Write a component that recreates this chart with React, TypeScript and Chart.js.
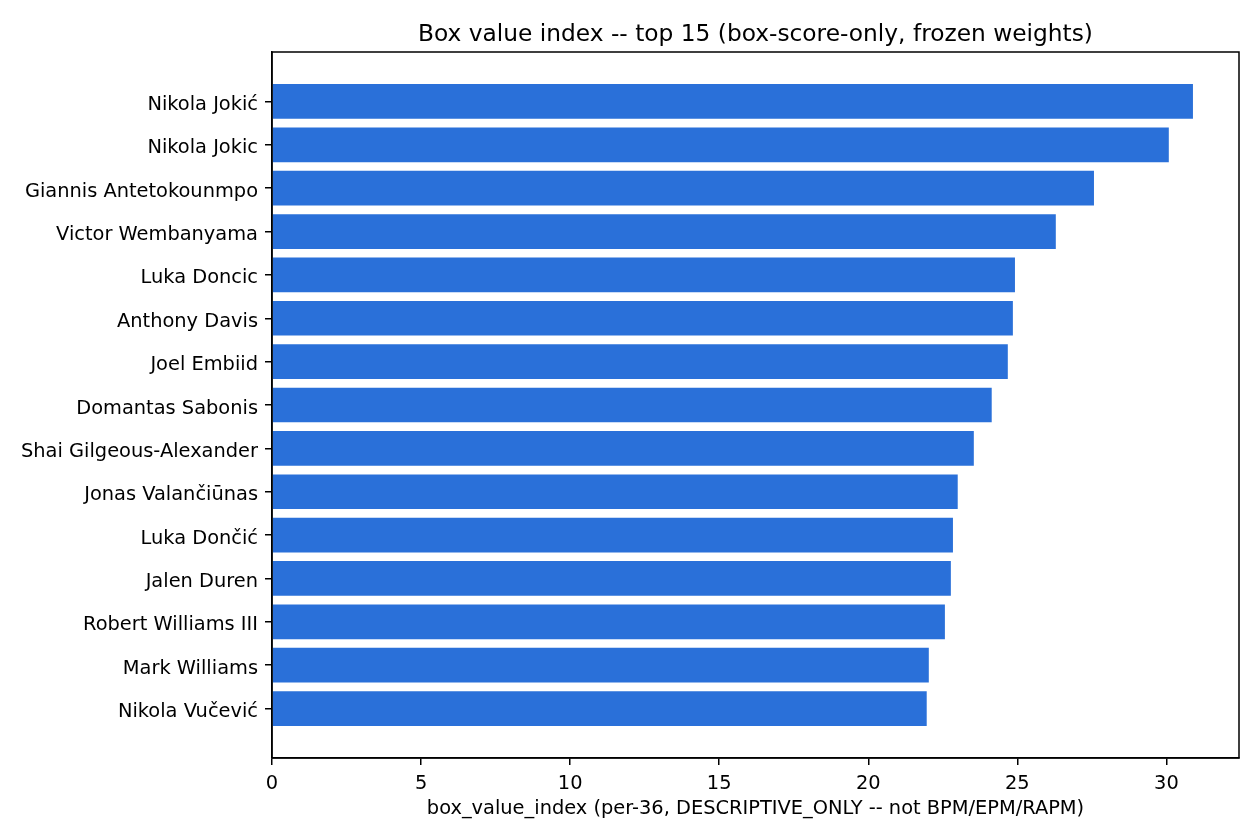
import React, { useEffect, useRef } from "react";
import { Chart, registerables } from "chart.js";

Chart.register(...registerables);

const players: string[] = [
  "Nikola Jokić",
  "Nikola Jokic",
  "Giannis Antetokounmpo",
  "Victor Wembanyama",
  "Luka Doncic",
  "Anthony Davis",
  "Joel Embiid",
  "Domantas Sabonis",
  "Shai Gilgeous-Alexander",
  "Jonas Valančiūnas",
  "Luka Dončić",
  "Jalen Duren",
  "Robert Williams III",
  "Mark Williams",
  "Nikola Vučević",
];

const boxValueIndex: number[] = [
  30.89, 30.08, 27.57, 26.29, 24.92, 24.85, 24.68, 24.14, 23.54, 23.0, 22.84,
  22.77, 22.57, 22.03, 21.96,
];

const xTickValues: number[] = [0, 5, 10, 15, 20, 25, 30];

const titleText = "Box value index -- top 15 (box-score-only, frozen weights)";
const xLabelText = "box_value_index (per-36, DESCRIPTIVE_ONLY -- not BPM/EPM/RAPM)";

const FONT = "'DejaVu Sans', sans-serif";
const BAR_COLOR = "#2a70d9";

export default function App() {
  const canvasRef = useRef<HTMLCanvasElement | null>(null);

  useEffect(() => {
    document.body.style.margin = "0";
    const canvas = canvasRef.current;
    if (!canvas) return;

    const n = players.length;
    const barHalf = 0.4;
    const yPad = (n - 1 + 2 * barHalf) * 0.05;
    const yMin = -barHalf - yPad;
    const yMax = n - 1 + barHalf + yPad;
    const xMax = Math.max(...boxValueIndex) * 1.05;

    const framePlugin = {
      id: "frameAndTexts",
      afterDraw(chart: any) {
        const { ctx, chartArea } = chart;
        const { left, right, top, bottom } = chartArea;
        ctx.save();
        ctx.strokeStyle = "#000";
        ctx.lineWidth = 1.5;
        ctx.beginPath();
        ctx.moveTo(left, bottom);
        ctx.lineTo(left, top);
        ctx.lineTo(right, top);
        ctx.lineTo(right, bottom);
        ctx.lineTo(left, bottom);
        ctx.stroke();

        ctx.fillStyle = "#000";
        ctx.textAlign = "center";
        ctx.textBaseline = "alphabetic";
        const cx = (left + right) / 2;
        ctx.font = `23.3px ${FONT}`;
        ctx.fillText(titleText, cx, top - 11.5);
        ctx.font = `19.4px ${FONT}`;
        ctx.fillText(xLabelText, cx, bottom + 55.5);
        ctx.restore();
      },
    };

    const chart = new Chart(canvas, {
      type: "bar",
      data: {
        datasets: [
          {
            data: boxValueIndex.map((v, i) => ({ x: v, y: i })),
            backgroundColor: BAR_COLOR,
            borderWidth: 0,
            categoryPercentage: 1,
            barPercentage: 0.8,
          },
        ],
      },
      options: {
        indexAxis: "y",
        responsive: false,
        animation: false,
        devicePixelRatio: 1,
        layout: { padding: { top: 52, right: 21, bottom: 0, left: 0 } },
        plugins: {
          legend: { display: false },
          title: { display: false },
          tooltip: { enabled: false },
        },
        scales: {
          x: {
            type: "linear",
            position: "bottom",
            min: 0,
            max: xMax,
            offset: false,
            afterBuildTicks(scale: any) {
              scale.ticks = xTickValues.map((v) => ({ value: v }));
            },
            afterFit(scale: any) {
              scale.height = 82;
            },
            ticks: {
              autoSkip: false,
              maxRotation: 0,
              padding: 7,
              color: "#000",
              font: { family: FONT, size: 19.4 },
              callback: (v: any) => String(v),
            },
            grid: {
              display: true,
              offset: false,
              drawOnChartArea: false,
              drawTicks: true,
              tickLength: 7,
              tickWidth: 1.5,
              tickColor: "#000",
              lineWidth: 1.5,
              color: "#000",
            },
            border: { display: true, color: "#000", width: 1.5 },
          },
          y: {
            type: "linear",
            position: "left",
            reverse: true,
            min: yMin,
            max: yMax,
            offset: false,
            afterBuildTicks(scale: any) {
              scale.ticks = players.map((_, i) => ({ value: i }));
            },
            afterFit(scale: any) {
              scale.width = 272;
            },
            ticks: {
              autoSkip: false,
              padding: 7,
              labelOffset: 3.5,
              color: "#000",
              font: { family: FONT, size: 19.4 },
              callback: (v: any) => players[Math.round(Number(v))] ?? "",
            },
            grid: {
              display: true,
              offset: false,
              drawOnChartArea: false,
              drawTicks: true,
              tickLength: 7,
              tickWidth: 1.5,
              tickColor: "#000",
              lineWidth: 1.5,
              color: "#000",
            },
            border: { display: true, color: "#000", width: 1.5 },
          },
        },
      } as any,
      plugins: [framePlugin],
    });

    return () => {
      chart.destroy();
    };
  }, []);

  return (
    <div style={{ position: "absolute", left: 0, top: 0, width: 1260, height: 840, background: "#fff" }}>
      <canvas ref={canvasRef} width={1260} height={840} style={{ width: 1260, height: 840 }} />
    </div>
  );
}
